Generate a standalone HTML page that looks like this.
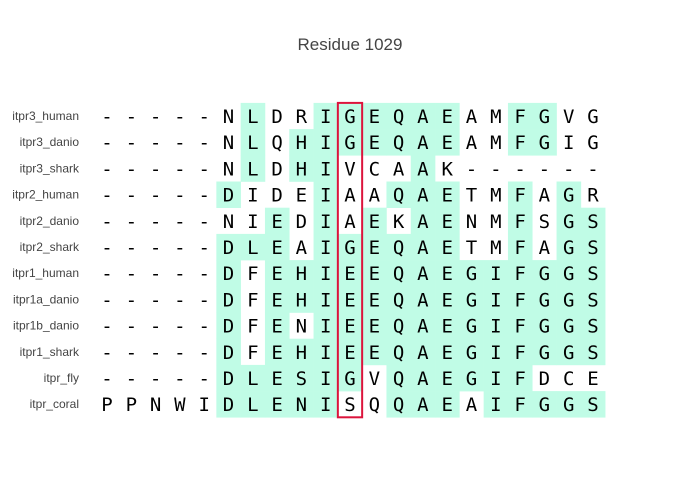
<!DOCTYPE html>
<html><head><meta charset="utf-8"><style>
body{margin:0;background:#fff;}
svg{display:block;}
</style></head><body>
<svg id="chart" width="700" height="500" xmlns="http://www.w3.org/2000/svg">
<text x="350" y="50" text-anchor="middle" font-family="Liberation Sans, sans-serif" font-size="17" fill="#444">Residue 1029</text>
<g id="cells"></g><g id="letters"></g><g id="labels"></g>
</svg>
<script>
const species=["itpr3_human","itpr3_danio","itpr3_shark","itpr2_human","itpr2_danio","itpr2_shark","itpr1_human","itpr1a_danio","itpr1b_danio","itpr1_shark","itpr_fly","itpr_coral"];
const sequences=["-----NLDRIGEQAEAMFGVG","-----NLQHIGEQAEAMFGIG","-----NLDHIVCAAK------","-----DIDEIAAQAETMFAGR","-----NIEDIAEKAENMFSGS","-----DLEAIGEQAETMFAGS","-----DFEHIEEQAEGIFGGS","-----DFEHIEEQAEGIFGGS","-----DFENIEEQAEGIFGGS","-----DFEHIEEQAEGIFGGS","-----DLESIGVQAEGIFDCE","PPNWIDLENISQQAEAIFGGS"];
const conserved=["000000100111111001100","000000101111111001100","000000101100010000000","000001000100111001010","000000010101011001011","000001110111111001011","000001011111111111111","000001011111111111111","000001010111111111111","000001011111111111111","000001111110111111000","000001111100111011111"];
const highlightCol=10;
const x0=107,dx=24.3,y0=116,dy=26.2;
const NS="http://www.w3.org/2000/svg";
const xs=c=>x0+c*dx, ys=r=>y0+r*dy;
const cells=document.getElementById('cells'),letters=document.getElementById('letters'),labels=document.getElementById('labels');
species.forEach((s,r)=>{
  const t=document.createElementNS(NS,'text');
  
  
  t.setAttribute('x',79);t.setAttribute('y',ys(r)+4);t.setAttribute('text-anchor','end');
  t.setAttribute('font-family','Liberation Sans, sans-serif');t.setAttribute('font-size','12');t.setAttribute('fill','#444');
  t.textContent=s;labels.appendChild(t);
  [...sequences[r]].forEach((ch,c)=>{
    if(conserved[r][c]==='1'){
      const rc=document.createElementNS(NS,'rect');
      
      
      rc.setAttribute('x',xs(c)-dx/2);rc.setAttribute('y',ys(r)-dy/2);
      rc.setAttribute('width',dx+0.3);rc.setAttribute('height',dy+0.3);rc.setAttribute('fill','#c0fce6');
      cells.appendChild(rc);
    }
    const l=document.createElementNS(NS,'text');
    
    
    l.setAttribute('x',xs(c));l.setAttribute('y',ys(r)+7);l.setAttribute('text-anchor','middle');
    l.setAttribute('font-family','DejaVu Sans Mono, monospace');l.setAttribute('font-size','19');l.setAttribute('fill','#000');
    l.textContent=ch;letters.appendChild(l);
  });
});
const box=document.createElementNS(NS,'rect');


box.setAttribute('x',xs(highlightCol)-dx/2);box.setAttribute('y',ys(0)-dy/2);
box.setAttribute('width',dx);box.setAttribute('height',dy*species.length);
box.setAttribute('fill','none');box.setAttribute('stroke','#dc143c');box.setAttribute('stroke-width','2');
document.getElementById('chart').appendChild(box);
</script>
</body></html>
